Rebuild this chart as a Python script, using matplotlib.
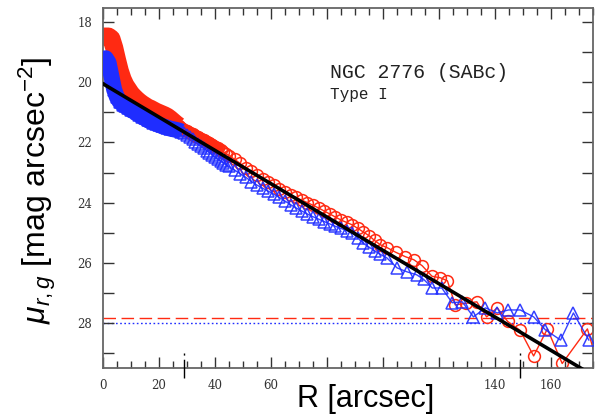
import numpy as np
import matplotlib
matplotlib.use("Agg")
import matplotlib.pyplot as plt
from matplotlib.ticker import MultipleLocator, FixedLocator

# ---------------- data ----------------
r_inner = list(range(0, 46))
r_mid = list(range(47, 100, 2))

red_R = r_inner + r_mid + [101.5, 104.5, 108, 111, 114, 117.5, 120.5, 123, 125.8, 129.5,
                           133.5, 137, 140.8, 144.5, 149, 153.8, 158.7, 164, 173, 178]
red_mu = [18.48, 18.48, 18.48, 18.55, 18.85, 19.25, 19.62, 19.9, 20.1, 20.24,
          20.38, 20.48, 20.57, 20.65, 20.72, 20.78, 20.84, 20.88, 20.93, 20.98,
          21.02, 21.06, 21.1, 21.15, 21.22, 21.3, 21.38, 21.45, 21.52, 21.58,
          21.63, 21.68, 21.73, 21.78, 21.83, 21.88, 21.93, 21.98, 22.03, 22.08,
          22.14, 22.2, 22.26, 22.32, 22.38, 22.44] + \
         [22.56, 22.7, 22.84, 22.96, 23.09, 23.2, 23.32, 23.43, 23.54, 23.65,
          23.74, 23.83, 23.92, 24.0, 24.09, 24.18, 24.28, 24.38, 24.48, 24.58,
          24.66, 24.74, 24.86, 24.98, 25.1, 25.26, 25.4] + \
         [25.5, 25.65, 25.8, 25.9, 26.1, 26.45, 26.5, 26.6, 27.4, 27.35,
          27.3, 27.8, 27.5, 27.95, 28.25, 29.1, 28.2, 29.35, 28.2, 29.8]

blue_R = r_inner + r_mid + [101.4, 105, 108.5, 112, 114.5, 117.6, 121, 124.7, 128.3, 132.3,
                            136.6, 140.8, 144.8, 149, 153.8, 158, 163.4, 168, 173.5]
blue_mu = [19.5, 19.2, 19.35, 19.8, 20.25, 20.5, 20.65, 20.74, 20.8, 20.86,
           20.92, 20.97, 21.03, 21.09, 21.15, 21.2, 21.26, 21.3, 21.34, 21.38,
           21.42, 21.45, 21.48, 21.51, 21.54, 21.56, 21.58, 21.6, 21.64, 21.68,
           21.75, 21.82, 21.9, 21.98, 22.06, 22.13, 22.2, 22.27, 22.34, 22.41,
           22.48, 22.55, 22.62, 22.68, 22.74, 22.8] + \
          [22.92, 23.04, 23.16, 23.3, 23.42, 23.52, 23.62, 23.72, 23.83, 23.95,
           24.07, 24.18, 24.28, 24.38, 24.47, 24.55, 24.63, 24.71, 24.79, 24.86,
           24.93, 25.0, 25.18, 25.36, 25.48, 25.6, 25.72] + \
          [25.84, 26.17, 26.3, 26.4, 26.55, 26.84, 26.84, 27.33, 27.3, 27.8,
           27.5, 27.67, 27.57, 27.57, 27.8, 28.23, 28.57, 27.67, 28.57]

fit_mu0 = 20.05        # central surface brightness of exponential fit
fit_slope = 0.0554     # mag / arcsec
sky_red = 27.83
sky_blue = 28.0
marks_R = [29, 149]

x_ticks = [0, 20, 40, 60, 80, 100, 120, 140, 160]
x_labels = ["0", "20", "40", "60", "", "", "", "140", "160"]
y_ticks = [18, 20, 22, 24, 26, 28]

title1 = "NGC 2776 (SABc)"
title2 = "Type I"

# ---------------- style ----------------
RED = "#ff2a12"
BLUE = "#1f2dff"

plt.rcParams["mathtext.fontset"] = "custom"
plt.rcParams["mathtext.rm"] = "Liberation Sans"
plt.rcParams["mathtext.it"] = "Liberation Sans:italic"

fig = plt.figure(figsize=(5.99, 4.18), dpi=100)
ax = fig.add_axes([103 / 599, 50 / 418, 490 / 599, 360 / 418])

red_R = np.array(red_R); red_mu = np.array(red_mu)
blue_R = np.array(blue_R); blue_mu = np.array(blue_mu)

# inner dense part drawn as a solid band
ax.plot(red_R[:28], red_mu[:28], color=RED, lw=13, solid_capstyle="butt",
        solid_joinstyle="round", zorder=2)
ax.plot(red_R[27:42], red_mu[27:42], color=RED, lw=9, solid_capstyle="round",
        solid_joinstyle="round", zorder=2)
ax.plot(red_R, red_mu, color=RED, lw=1.0, marker="o", ms=8.5, mfc="none", mew=1.1,
        zorder=2)
ax.plot(blue_R[:29], blue_mu[:29], color=BLUE, lw=11.5, solid_capstyle="butt",
        solid_joinstyle="round", zorder=3)
ax.plot(blue_R, blue_mu, color=BLUE, lw=1.0, marker="^", ms=8.5, mfc="none", mew=1.1,
        alpha=0.9, zorder=3)

Rfit = np.linspace(0, 180, 300)
ax.plot(Rfit, fit_mu0 + fit_slope * Rfit, color="black", lw=2.6, zorder=4)

ax.axhline(sky_red, color=RED, lw=1.0, ls=(0, (9, 4)), zorder=1)
ax.axhline(sky_blue, color=BLUE, lw=1.0, ls=(0, (1.2, 1.8)), zorder=1)

for r in marks_R:
    ax.plot([r, r], [0.042, -0.028], transform=ax.get_xaxis_transform(), color="black",
            lw=1.0, ls=(0, (1.5, 3, 20, 2)), clip_on=False, zorder=5)

ax.set_xlim(0, 175)
ax.set_ylim(29.5, 17.53)

ax.xaxis.set_major_locator(FixedLocator(x_ticks))
ax.set_xticklabels(x_labels)
ax.xaxis.set_minor_locator(MultipleLocator(5))
ax.yaxis.set_major_locator(FixedLocator(y_ticks))
ax.yaxis.set_minor_locator(MultipleLocator(1))

ax.tick_params(which="both", direction="in", top=True, right=True, color="#333333",
               width=1.0)
ax.tick_params(which="major", length=8)
ax.tick_params(which="minor", length=5)
ax.tick_params(axis="y", which="minor", length=8)
ax.tick_params(axis="x", pad=8)
ax.tick_params(axis="y", pad=8)
for lab in ax.get_xticklabels() + ax.get_yticklabels():
    lab.set_fontfamily("DejaVu Serif")
    lab.set_fontsize(8.5)
    lab.set_color("#333333")

for s in ax.spines.values():
    s.set_color("#666666")
    s.set_linewidth(1.3)

ax.set_xlabel("R [arcsec]", fontsize=22, family="Liberation Sans")
ax.xaxis.set_label_coords(0.535, -0.045)
ax.xaxis.label.set_va("top")
ax.set_ylabel(r"$\mu_{r,g}$ [mag arcsec$^{\mathregular{-2}}$]", fontsize=23,
              family="Liberation Sans")
ax.yaxis.set_label_coords(-0.092, 0.494)

ax.text(0.463, 0.822, title1, transform=ax.transAxes, fontsize=14.3,
        family="Liberation Mono", va="center", ha="left", color="#222222")
ax.text(0.463, 0.761, title2, transform=ax.transAxes, fontsize=11.5,
        family="Liberation Mono", va="center", ha="left", color="#222222")

fig.savefig("out.png", dpi=100)
